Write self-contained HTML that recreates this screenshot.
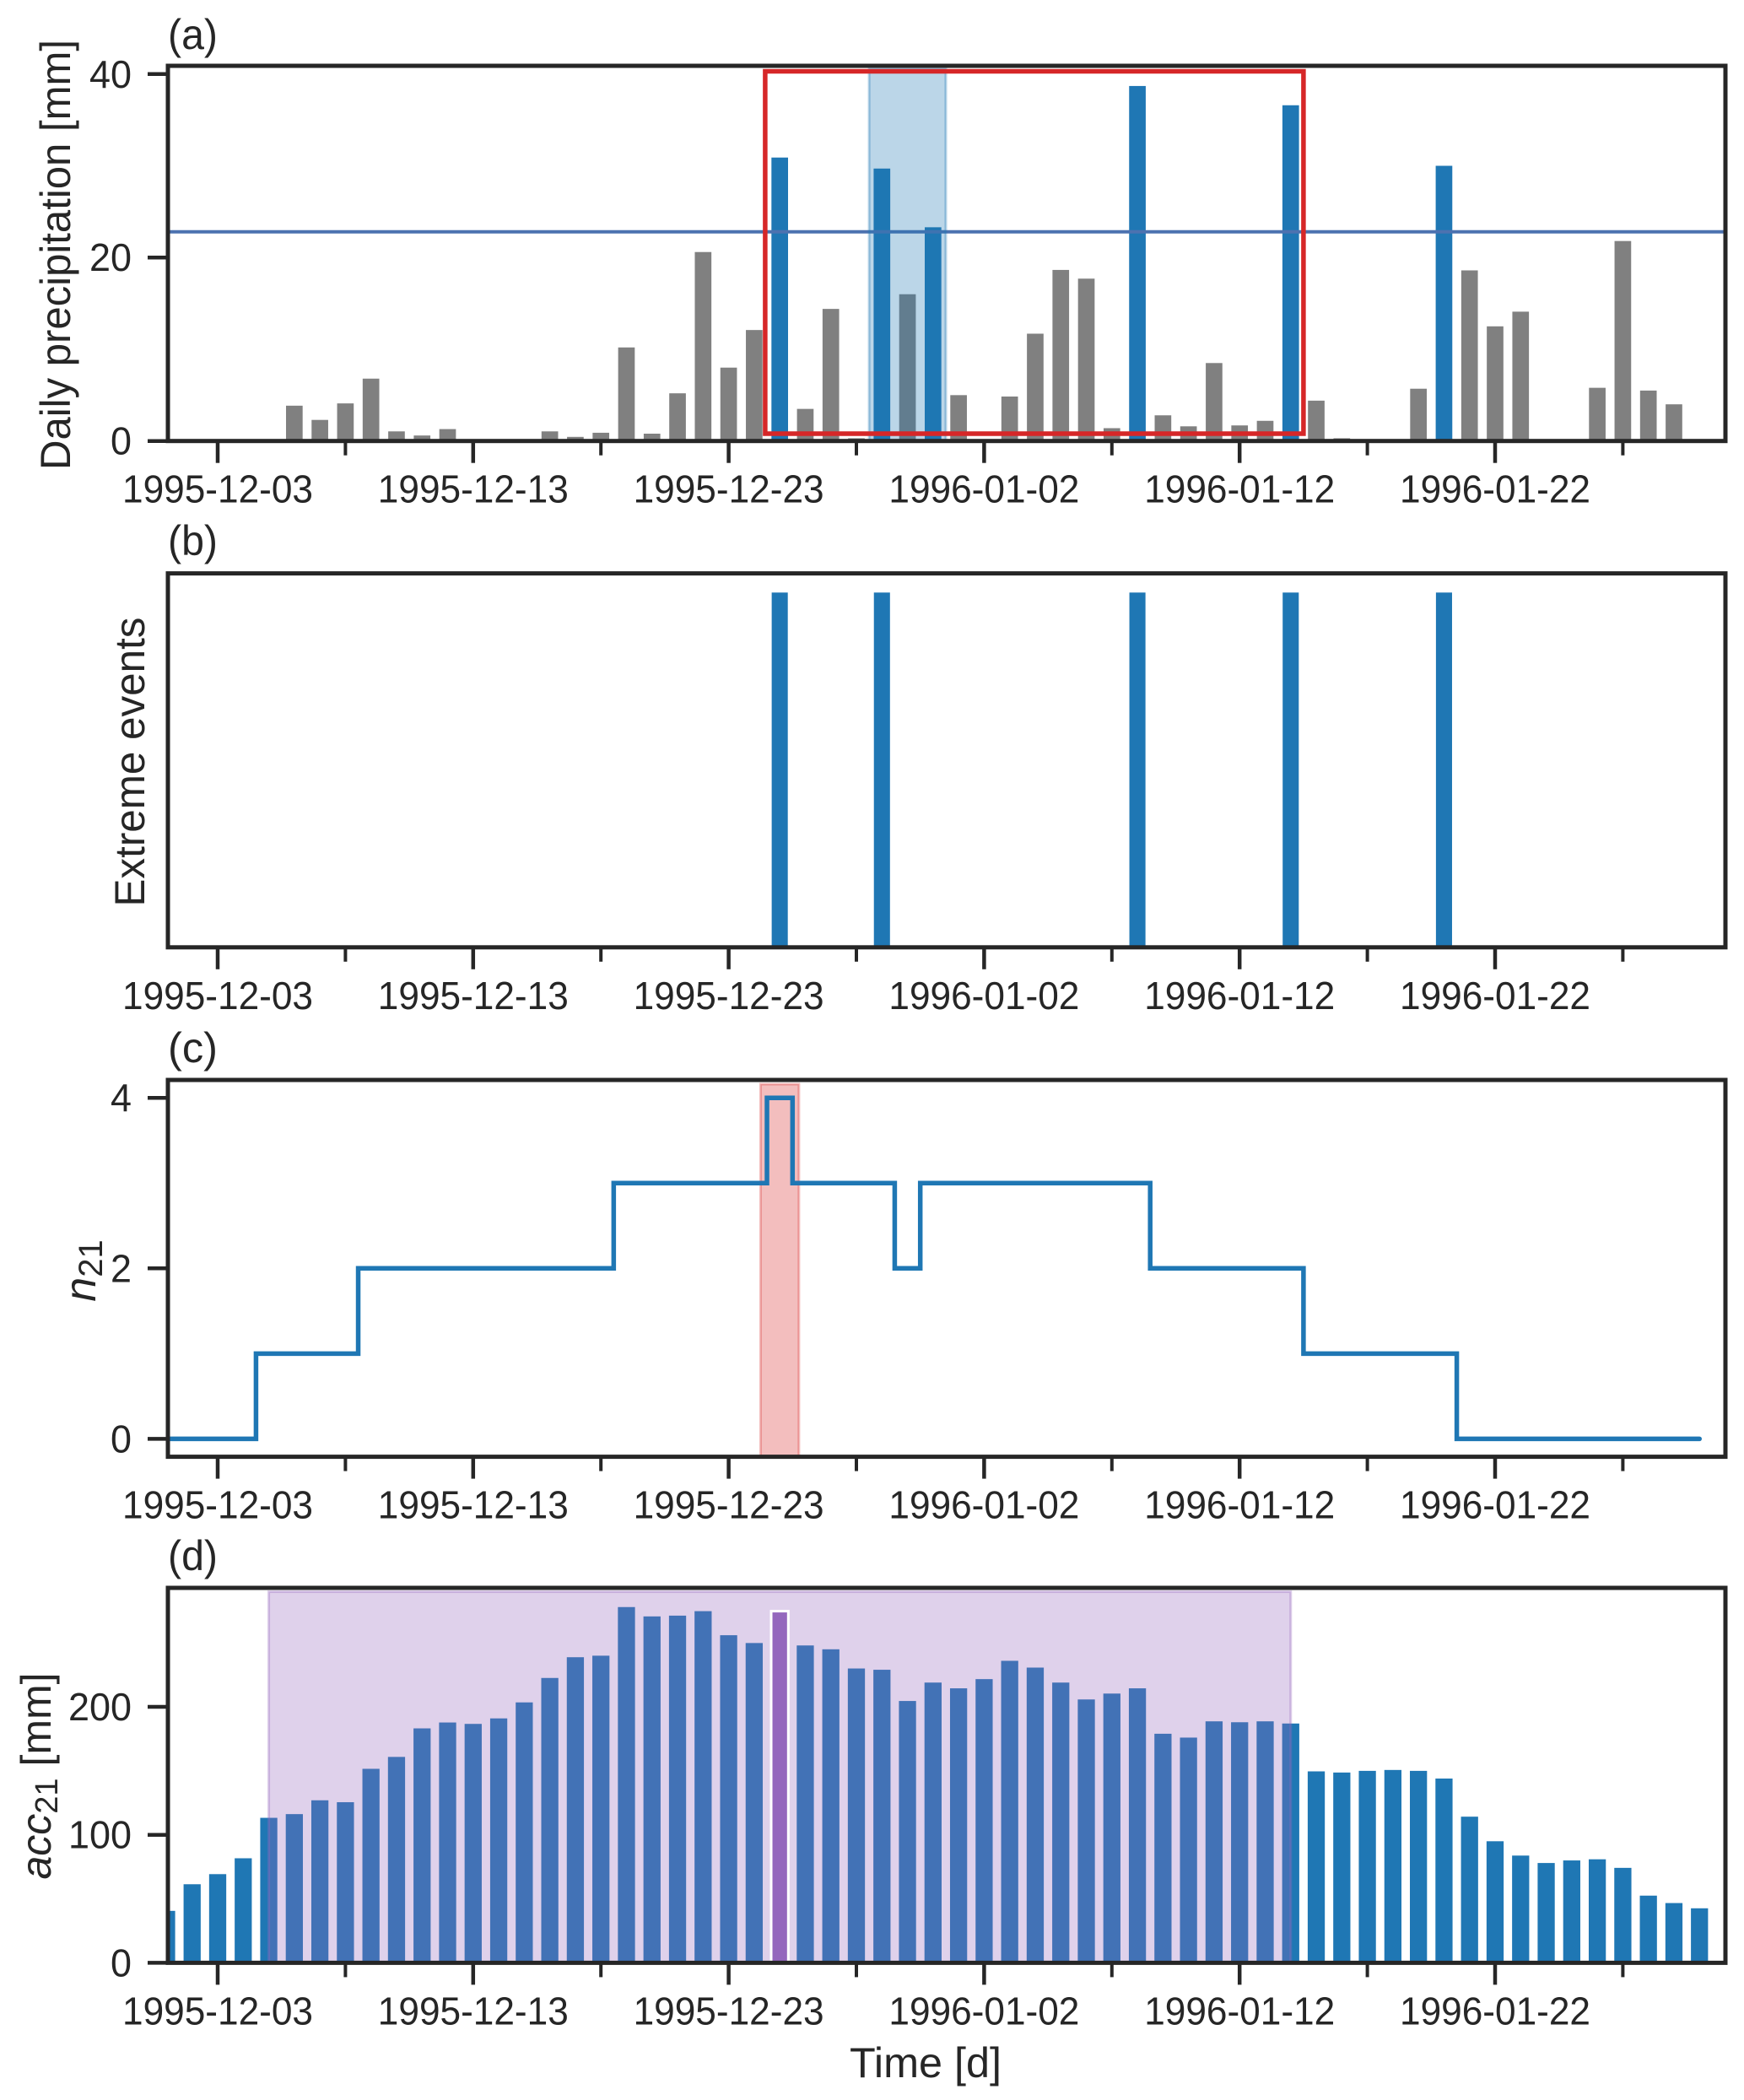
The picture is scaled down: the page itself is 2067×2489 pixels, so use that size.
<!DOCTYPE html>
<html><head><meta charset="utf-8"><style>
html,body{margin:0;padding:0;background:#fff;}
svg{display:block;font-family:"Liberation Sans",Arial,sans-serif;}
</style></head><body>
<svg id="fig" xmlns="http://www.w3.org/2000/svg" width="2067" height="2489" viewBox="0 0 2067 2489"></svg>
<script>
// ---- data ----
const precipDays = [0,1,2,3,4,5,6,7,8,9,10,11,12,13,14,15,16,17,18,19,20,21,22,23,24,25,26,27,28,29,30,31,32,33,34,35,36,37,38,39,40,41,42,43,44,45,46,47,48,49,50,51,52,53,54,55,56,57];
const precipValues = [0,0,0,3.85,2.3,4.1,6.8,1.05,0.6,1.3,0,0,0,1.05,0.45,0.9,10.2,0.8,5.2,20.6,8.0,12.1,30.9,3.5,14.4,0.3,29.7,16.0,23.3,5.0,0,4.85,11.7,18.65,17.7,1.4,38.7,2.8,1.6,8.5,1.7,2.2,36.6,4.4,0.3,0,0,5.7,30.0,18.6,12.5,14.1,0,0,5.8,21.8,5.5,4.0];
const threshold = [22.8];
const eventDays = [22,26,36,42,48];
const n21Days = [-2,-1,0,1,2,3,4,5,6,7,8,9,10,11,12,13,14,15,16,17,18,19,20,21,22,23,24,25,26,27,28,29,30,31,32,33,34,35,36,37,38,39,40,41,42,43,44,45,46,47,48,49,50,51,52,53,54,55,56,57,58];
const n21Values = [0,0,0,0,1,1,1,1,2,2,2,2,2,2,2,2,2,2,3,3,3,3,3,3,4,3,3,3,3,2,3,3,3,3,3,3,3,3,3,2,2,2,2,2,2,1,1,1,1,1,1,0,0,0,0,0,0,0,0,0,0];
const accDays = [-2,-1,0,1,2,3,4,5,6,7,8,9,10,11,12,13,14,15,16,17,18,19,20,21,22,23,24,25,26,27,28,29,30,31,32,33,34,35,36,37,38,39,40,41,42,43,44,45,46,47,48,49,50,51,52,53,54,55,56,57,58];
const accValues = [40.6,61.4,69.3,81.7,113.3,116.2,127,125.5,151.6,160.9,183.2,187.8,186.7,191,203.5,222.6,238.8,240,278,270.7,271.3,274.8,256,249.9,274.8,248,245,230,229,204.6,219,214.5,221.7,236,230.7,219,205.8,210.4,214.5,179,176,188.7,188,188.7,187,149.6,148.7,150,150.7,150,144,114.2,95,83.8,78,80,80.9,74.2,52.5,46.7,42.6];
const maxAccDay = [22];
const tickDays = [0,10,20,30,40,50];
const tickLabels = ["1995-12-03","1995-12-13","1995-12-23","1996-01-02","1996-01-12","1996-01-22"];
const minorTickDays = [5,15,25,35,45,55];
const yTicksA = [0,20,40];
const yTicksC = [0,2,4];
const yTicksD = [0,100,200];

// ---- layout ----
const NS = "http://www.w3.org/2000/svg";
const svg = document.getElementById('fig');
const L = 199, R = 2045;
const X = d => 258 + d * 30.28;
const INK = "#262626";
const panels = {
  a:{top:78, bottom:522.7, ymin:0, ymax:40.9},
  b:{top:679.6, bottom:1122.8, ymin:0, ymax:1.054},
  c:{top:1280, bottom:1726.6, ymin:-0.21, ymax:4.21},
  d:{top:1882, bottom:2326.4, ymin:0, ymax:293}
};
function Y(p, v){ return p.bottom - (v - p.ymin) / (p.ymax - p.ymin) * (p.bottom - p.top); }
function el(tag, attrs, parent){
  const e = document.createElementNS(NS, tag);
  for (const k in attrs) e.setAttribute(k, attrs[k]);
  (parent || svg).appendChild(e);
  return e;
}
function txt(s, attrs, parent){ const t = el('text', attrs, parent); t.textContent = s; return t; }

const defs = el('defs', {});
for (const k in panels){
  const p = panels[k];
  const cp = el('clipPath', {id:'clip-'+k}, defs);
  el('rect', {x:L, y:p.top, width:R-L, height:p.bottom-p.top}, cp);
}

function frame(key, name){
  const p = panels[key];
  const g = el('g', {});
  
  
  tickDays.forEach((d, i) => {
    const t = el('line', {x1:X(d), x2:X(d), y1:p.bottom, y2:p.bottom+26, stroke:INK, 'stroke-width':4.5}, g);
    
    
    const lab = txt(tickLabels[i], {x:X(d), y:p.bottom+73, 'text-anchor':'middle', 'font-size':46, fill:INK, textLength:226, lengthAdjust:'spacingAndGlyphs'}, g);
    
    
  });
  minorTickDays.forEach(d => {
    const t = el('line', {x1:X(d), x2:X(d), y1:p.bottom, y2:p.bottom+17, stroke:INK, 'stroke-width':4}, g);
    
    
  });
  return g;
}
function yticks(key, ticks){
  const p = panels[key];
  ticks.forEach(v => {
    const t = el('line', {x1:L-24, x2:L, y1:Y(p,v), y2:Y(p,v), stroke:INK, 'stroke-width':4.5});
    
    
    const s = String(v);
    const lab = txt(s, {x:156, y:Y(p,v)+16, 'text-anchor':'end', 'font-size':46, fill:INK, textLength:25*s.length, lengthAdjust:'spacingAndGlyphs'});
    
    
  });
}
function spine(key){
  const p = panels[key];
  const r = el('rect', {x:L, y:p.top, width:R-L, height:p.bottom-p.top, fill:'none', stroke:INK, 'stroke-width':5});
  
  
}
function panelLabel(s, y){
  const t = txt(s, {x:199, y:y, 'font-size':50, fill:INK, textLength:59, lengthAdjust:'spacingAndGlyphs'});
  
  
}
function ylabel(s, cx, cy, len, size){
  const t = txt(s, {x:0, y:0, 'text-anchor':'middle', 'font-size':size, fill:INK, transform:`translate(${cx},${cy}) rotate(-90)`, textLength:len, lengthAdjust:'spacingAndGlyphs'});
  
  
  return t;
}

// ---- Panel A ----
{
  const p = panels.a;
  frame('a', 'precip');
  const g = el('g', {'clip-path':'url(#clip-a)'});
  
  
  const w = 0.65 * 30.28;
  precipDays.forEach((d, i) => {
    const v = precipValues[i];
    if (v <= 0) return;
    const ext = v > threshold[0];
    const b = el('rect', {x:X(d)-w/2, y:Y(p,v), width:w, height:Y(p,0)-Y(p,v), fill: ext ? '#1f77b4' : '#808080'}, g);
    
    
  });
  const th = el('line', {x1:L, x2:R, y1:Y(p,threshold[0]), y2:Y(p,threshold[0]), stroke:'#4c72b0', 'stroke-width':4});
  
  
  const span = el('rect', {x:X(25.5), y:Y(p,40.6), width:X(28.5)-X(25.5), height:Y(p,0)-Y(p,40.6), fill:'#1f77b4', 'fill-opacity':0.3, stroke:'#1f77b4', 'stroke-opacity':0.35, 'stroke-width':3});
  
  
  const box = el('rect', {x:X(21.43), y:Y(p,40.3), width:X(42.5)-X(21.43), height:Y(p,0.8)-Y(p,40.3), fill:'none', stroke:'#d62728', 'stroke-width':5.5});
  
  
  yticks('a', yTicksA);
  spine('a');
  panelLabel('(a)', 58);
  ylabel('Daily precipitation [mm]', 83, 302, 510, 50);
}

// ---- Panel B ----
{
  const p = panels.b;
  frame('b', 'events');
  const w = 0.63 * 30.28;
  eventDays.forEach(d => {
    const b = el('rect', {x:X(d)-w/2, y:Y(p,1), width:w, height:Y(p,0)-Y(p,1), fill:'#1f77b4'});
    
    
  });
  spine('b');
  panelLabel('(b)', 658);
  ylabel('Extreme events', 171, 903, 343, 50);
}

// ---- Panel C ----
{
  const p = panels.c;
  frame('c', 'n21');
  const span = el('rect', {x:X(21.25), y:p.top+5, width:X(22.75)-X(21.25), height:p.bottom-p.top-5, fill:'#d62728', 'fill-opacity':0.3, stroke:'#d62728', 'stroke-opacity':0.3, 'stroke-width':3});
  
  
  let d = `M${X(n21Days[0])},${Y(p,n21Values[0])}`;
  for (let i = 1; i < n21Days.length; i++){
    const xm = X((n21Days[i-1] + n21Days[i]) / 2);
    d += ` H${xm} V${Y(p,n21Values[i])}`;
  }
  d += ` H${X(n21Days[n21Days.length-1])}`;
  const g = el('g', {'clip-path':'url(#clip-c)'});
  const line = el('path', {d:d, fill:'none', stroke:'#1f77b4', 'stroke-width':5.5, 'stroke-linecap':'round'}, g);
  
  
  yticks('c', yTicksC);
  spine('c');
  panelLabel('(c)', 1259);
  const t = el('text', {x:0, y:0, 'text-anchor':'middle', 'font-size':52, fill:INK, transform:'translate(113,1506) rotate(-90)'});
  
  
  const t1 = el('tspan', {'font-style':'italic'}, t); t1.textContent = 'n';
  const t2 = el('tspan', {'font-size':40, dy:8}, t); t2.textContent = '21';
}

// ---- Panel D ----
{
  const p = panels.d;
  frame('d', 'acc21');
  const g = el('g', {'clip-path':'url(#clip-d)'});
  
  
  const w = 0.67 * 30.28;
  accDays.forEach((d, i) => {
    if (d === maxAccDay[0]) return;
    const v = accValues[i];
    const b = el('rect', {x:X(d)-w/2, y:Y(p,v), width:w, height:Y(p,0)-Y(p,v), fill:'#1f77b4'}, g);
    
    
  });
  const span = el('rect', {x:X(2), y:Y(p,290), width:X(42)-X(2), height:Y(p,0)-Y(p,290), fill:'#9467bd', 'fill-opacity':0.3, stroke:'#9467bd', 'stroke-opacity':0.35, 'stroke-width':3});
  
  
  const mi = accDays.indexOf(maxAccDay[0]);
  const mb = el('rect', {x:X(maxAccDay[0])-w/2, y:Y(p,accValues[mi]), width:w, height:Y(p,0)-Y(p,accValues[mi]), fill:'#9467bd', stroke:'#ffffff', 'stroke-width':3});
  
  
  yticks('d', yTicksD);
  spine('d');
  panelLabel('(d)', 1861);
  const t = el('text', {x:0, y:0, 'text-anchor':'middle', 'font-size':50, fill:INK, transform:'translate(60,2105) rotate(-90)'});
  
  
  const t1 = el('tspan', {'font-style':'italic'}, t); t1.textContent = 'acc';
  const t2 = el('tspan', {'font-size':38, dy:8}, t); t2.textContent = '21';
  const t3 = el('tspan', {dy:-8}, t); t3.textContent = ' [mm]';
  const xl = txt('Time [d]', {x:1097, y:2462, 'text-anchor':'middle', 'font-size':50, fill:INK, textLength:180, lengthAdjust:'spacingAndGlyphs'});
  
  
}
</script>
</body></html>
